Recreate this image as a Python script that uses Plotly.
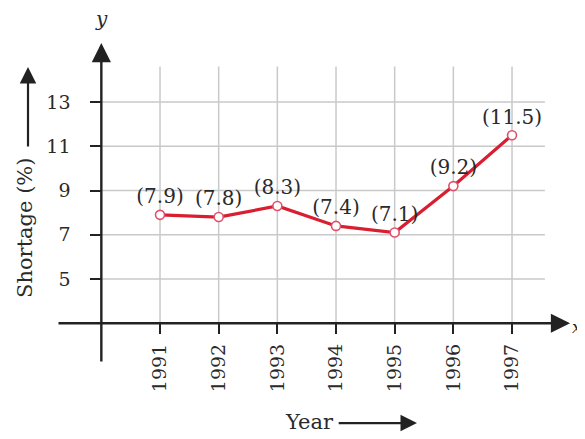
import plotly.graph_objects as go

# ---- data ----
years = [1991, 1992, 1993, 1994, 1995, 1996, 1997]
shortage = [7.9, 7.8, 8.3, 7.4, 7.1, 9.2, 11.5]
year_labels = [str(y) for y in years]
y_ticks = [5, 7, 9, 11, 13]
point_labels = [f"({v})" for v in shortage]

# page body has an 8px margin, so the figure is slightly smaller than the window
W, H = 577, 431
X_RANGE = [1988.409, 1998.244]
Y_RANGE = [-2.232, 17.249]
ORIGIN_X = 1990
ORIGIN_Y = 3

FONT = "DejaVu Serif"
TXT = "#2a2a2a"
GRID = "#c9c9c9"
AXIS = "#222222"

def px_x(v):
    return (v - X_RANGE[0]) / (X_RANGE[1] - X_RANGE[0])

def px_y(v):
    return (v - Y_RANGE[0]) / (Y_RANGE[1] - Y_RANGE[0])

fig = go.Figure()

fig.add_trace(go.Scatter(
    x=years, y=shortage, mode="lines+markers+text",
    text=point_labels, textposition="top center",
    textfont=dict(family=FONT, size=20, color=TXT),
    line=dict(color="#d81e30", width=3.2),
    marker=dict(size=9, color="white", line=dict(color="#e0506a", width=1.6)),
    cliponaxis=False, showlegend=False,
))

shapes = []
# horizontal gridlines
for t in y_ticks:
    shapes.append(dict(type="line", xref="x", yref="y", x0=ORIGIN_X, x1=1997.56,
                       y0=t, y1=t, line=dict(color=GRID, width=1.5), layer="below"))
# vertical gridlines
for yr in years:
    shapes.append(dict(type="line", xref="x", yref="y", x0=yr, x1=yr,
                       y0=ORIGIN_Y, y1=14.6, line=dict(color=GRID, width=1.5), layer="below"))

annotations = []
# x axis with arrow
annotations.append(dict(x=1997.99, y=ORIGIN_Y, ax=1989.244, ay=ORIGIN_Y, xref="x", yref="y",
                        axref="x", ayref="y", text="", showarrow=True, arrowhead=2,
                        arrowsize=1.6, arrowwidth=2.4, arrowcolor=AXIS, standoff=0, startstandoff=0))
# y axis with arrow
annotations.append(dict(x=ORIGIN_X, y=15.67, ax=ORIGIN_X, ay=1.203, xref="x", yref="y",
                        axref="x", ayref="y", text="", showarrow=True, arrowhead=2,
                        arrowsize=1.6, arrowwidth=2.4, arrowcolor=AXIS, standoff=0, startstandoff=0))
# axis letters
annotations.append(dict(x=ORIGIN_X, y=16.75, xref="x", yref="y", text="<i>y</i>", showarrow=False,
                        font=dict(family=FONT, size=20, color=TXT)))
annotations.append(dict(x=1998.1, y=ORIGIN_Y - 0.15, xref="x", yref="y", text="<i>x</i>", showarrow=False,
                        xanchor="center", borderpad=0, font=dict(family=FONT, size=17, color=TXT)))
# y title + arrow
annotations.append(dict(x=1988.70, y=7.31, xref="x", yref="y", text="Shortage (%)", textangle=-90,
                        showarrow=False, font=dict(family=FONT, size=21, color=TXT)))
annotations.append(dict(x=1988.75, y=14.58, ax=1988.75, ay=10.92, xref="x", yref="y",
                        axref="x", ayref="y", text="", showarrow=True, arrowhead=2,
                        arrowsize=1.5, arrowwidth=2.2, arrowcolor=AXIS, standoff=0, startstandoff=0))
# x title + arrow
annotations.append(dict(x=1993.54, y=-1.45, xref="x", yref="y", text="Year",
                        showarrow=False, font=dict(family=FONT, size=21, color=TXT)))
annotations.append(dict(x=1995.38, y=-1.51, ax=1994.02, ay=-1.51, xref="x", yref="y",
                        axref="x", ayref="y", text="", showarrow=True, arrowhead=2,
                        arrowsize=1.5, arrowwidth=2.2, arrowcolor=AXIS, standoff=0, startstandoff=0))

fig.update_layout(
    width=W, height=H, autosize=False,
    margin=dict(l=0, r=0, t=0, b=0, pad=0),
    paper_bgcolor="white", plot_bgcolor="white",
    shapes=shapes, annotations=annotations,
    xaxis=dict(range=X_RANGE, showgrid=False, zeroline=False, showline=False,
               tickmode="array", tickvals=years, ticktext=year_labels, tickangle=-90,
               ticks="outside", ticklen=10, tickwidth=2, tickcolor=AXIS,
               anchor="free", position=px_y(ORIGIN_Y), ticklabelstandoff=2,
               tickfont=dict(family=FONT, size=19, color=TXT), fixedrange=True),
    yaxis=dict(range=Y_RANGE, showgrid=False, zeroline=False, showline=False,
               tickmode="array", tickvals=y_ticks, ticktext=[str(t) for t in y_ticks],
               ticks="outside", ticklen=11, tickwidth=2, tickcolor=AXIS,
               anchor="free", position=px_x(ORIGIN_X), ticklabelstandoff=16,
               tickfont=dict(family=FONT, size=19, color=TXT), fixedrange=True),
)

fig.write_html("out.html")
